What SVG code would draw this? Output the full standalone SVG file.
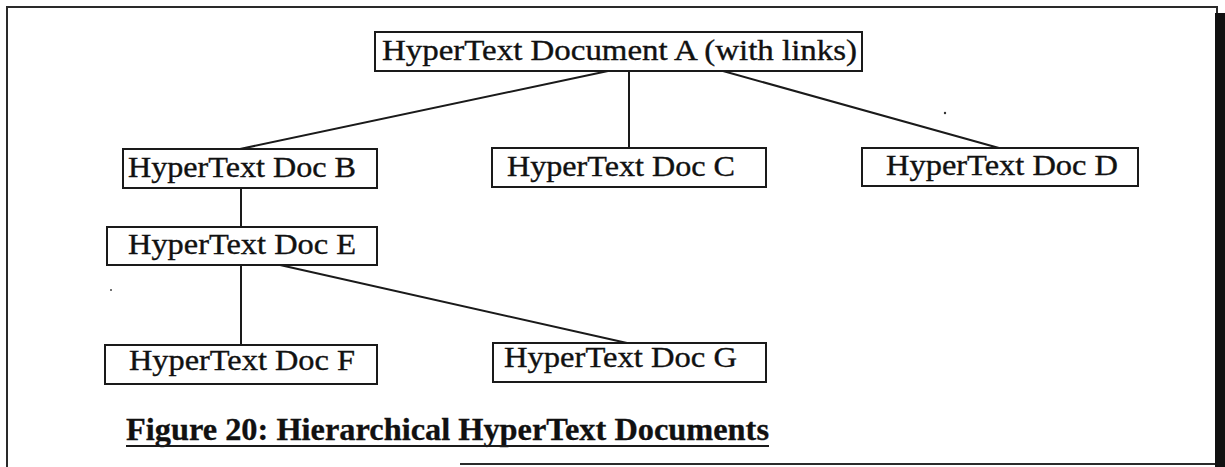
<svg xmlns="http://www.w3.org/2000/svg" width="1225" height="467" viewBox="0 0 1225 467">
  <style>
    .box { fill: #ffffff; stroke: #1a1a1a; stroke-width: 2; }
    .lbl { font-family: "Liberation Serif", "Times New Roman", serif; font-size: 29px; fill: #111111; stroke: #111111; stroke-width: 0.35; }
    .link { stroke: #1a1a1a; stroke-width: 2; fill: none; stroke-linecap: round; }
    .frame { stroke: #2a2a2a; stroke-width: 2; fill: none; }
    .caption { font-family: "Liberation Serif", "Times New Roman", serif; font-size: 31px; font-weight: bold; fill: #111111; stroke: #111111; stroke-width: 0.3; }
  </style>

  <!-- page background and frame -->
  <rect x="0" y="0" width="1225" height="467" fill="#ffffff"/>
  <g id="frame">
    <polyline class="frame" points="7,467 7,7 1217,7 1217,13"/>
    <line class="frame" x1="460" y1="464" x2="1216" y2="464"/>
    <rect x="1215" y="13" width="10" height="454" fill="#111111"/>
  </g>

  <!-- tree links -->
  <g id="connectors">
    <line class="link" x1="608" y1="71" x2="240" y2="149"/>
    <line class="link" x1="629" y1="71" x2="629" y2="148" stroke-width="1.6"/>
    <line class="link" x1="723" y1="71" x2="999" y2="148"/>
    <line class="link" x1="241" y1="188" x2="241" y2="227" stroke-width="1.6"/>
    <line class="link" x1="241" y1="265" x2="241" y2="345" stroke-width="1.6"/>
    <line class="link" x1="280" y1="265" x2="627" y2="343"/>
  </g>

  <g id="node-a">
    <rect class="box" x="375" y="32" width="487" height="39"/>
    <text class="lbl" x="382" y="60" textLength="475" lengthAdjust="spacingAndGlyphs">HyperText Document A (with links)</text>
  </g>
  <g id="node-b">
    <rect class="box" x="123" y="149" width="254" height="39"/>
    <text class="lbl" x="128" y="177" textLength="228" lengthAdjust="spacingAndGlyphs">HyperText Doc B</text>
  </g>
  <g id="node-c">
    <rect class="box" x="492" y="148" width="274" height="39"/>
    <text class="lbl" x="507" y="176" textLength="228" lengthAdjust="spacingAndGlyphs">HyperText Doc C</text>
  </g>
  <g id="node-d">
    <rect class="box" x="862" y="148" width="276" height="38"/>
    <text class="lbl" x="886" y="175" textLength="232" lengthAdjust="spacingAndGlyphs">HyperText Doc D</text>
  </g>
  <g id="node-e">
    <rect class="box" x="107" y="227" width="270" height="38"/>
    <text class="lbl" x="128" y="254" textLength="228" lengthAdjust="spacingAndGlyphs">HyperText Doc E</text>
  </g>
  <g id="node-f">
    <rect class="box" x="105" y="345" width="272" height="39"/>
    <text class="lbl" x="129" y="370" textLength="226" lengthAdjust="spacingAndGlyphs">HyperText Doc F</text>
  </g>
  <g id="node-g">
    <rect class="box" x="493" y="343" width="273" height="39"/>
    <text class="lbl" x="504" y="367" textLength="233" lengthAdjust="spacingAndGlyphs">HyperText Doc G</text>
  </g>

  <!-- caption -->
  <g id="caption">
    <text class="caption" x="126" y="440" textLength="643" lengthAdjust="spacingAndGlyphs">Figure 20: Hierarchical HyperText Documents</text>
    <line x1="126" y1="446" x2="769" y2="446" stroke="#1a1a1a" stroke-width="2"/>
  </g>

  <!-- specks -->
  <circle cx="945" cy="113" r="1.2" fill="#333333"/>
  <circle cx="111" cy="290" r="1" fill="#444444"/>
</svg>
